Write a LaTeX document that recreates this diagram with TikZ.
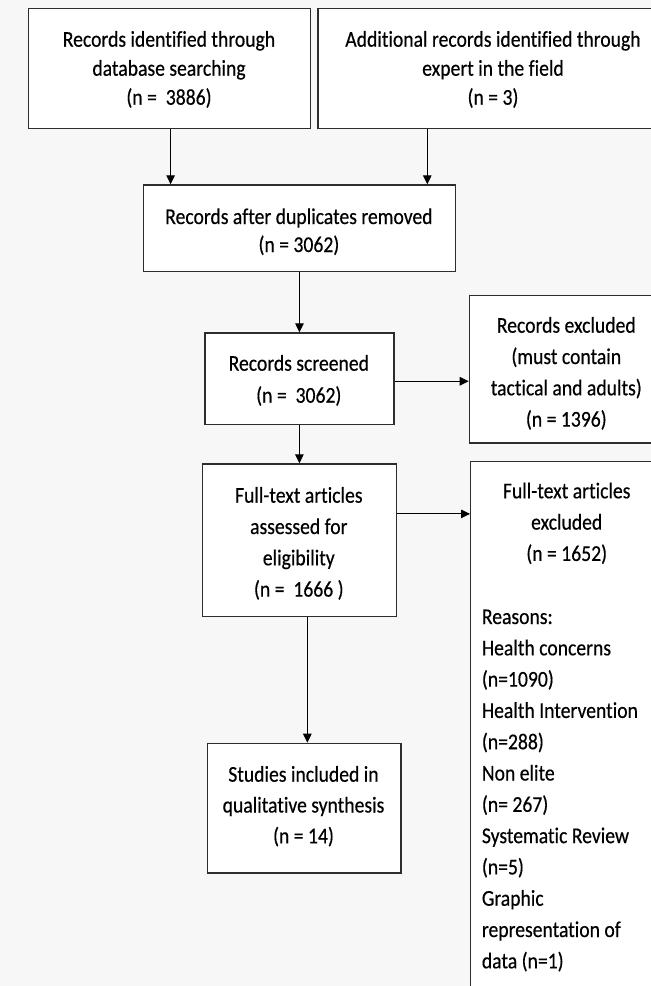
\documentclass[tikz,border=0pt]{standalone}
\usepackage{fontspec}
\setmainfont{Carlito}[FakeStretch=0.87, FakeBold=0.4, Ligatures=NoCommon]
\usetikzlibrary{arrows.meta}
\definecolor{bgc}{RGB}{247,247,247}
\definecolor{edge}{RGB}{45,45,45}
\newcommand\fsz[1]{\fontsize{22.6}{#1}\selectfont}
\begin{document}
\begin{tikzpicture}[x=1pt,y=-1pt,
  box/.style={draw=edge, line width=1.2pt, fill=white, inner sep=0pt, anchor=north west},
  txt/.style={inner sep=0pt, align=center, anchor=base},
  txtl/.style={inner sep=0pt, align=left, anchor=base west},
  arr/.style={line width=1.1pt, -{Triangle[width=8.5pt,length=9pt]}}]
\useasboundingbox (0,0) rectangle (651,986);
\fill[bgc] (0,0) rectangle (651,986);
\begin{scope}
\clip (0,0) rectangle (651,986);
% boxes
\node[box, minimum width=282pt, minimum height=120pt] (b1) at (28,8) {};
\node[box, minimum width=351.7pt, minimum height=120pt] (b2) at (317.3,8) {};
\node[box, minimum width=312.3pt, minimum height=86.7pt] (b3) at (142.7,184.3) {};
\node[box, minimum width=189pt, minimum height=91.7pt] (b4) at (204.3,332.3) {};
\node[box, minimum width=195.3pt, minimum height=147.6pt] (b5) at (468.7,294.7) {};
\node[box, minimum width=193.7pt, minimum height=152.4pt] (b6) at (202,463.3) {};
\node[box, minimum width=194pt, minimum height=540pt] (b7) at (470,460.7) {};
\node[box, minimum width=193.6pt, minimum height=129.6pt] (b8) at (206.7,742.7) {};
% texts (anchor base = baseline of last line)
\node[txt, font=\fsz{29}] (t1) at (169,104.7) {Records identified through\\database searching\\(n =\ \ 3886)};
\node[txt, font=\fsz{29}] (t2) at (493,104.7) {Additional records identified through\\expert in the field\\(n = 3)};
\node[txt, font=\fsz{28}] (t3) at (298.9,252) {Records after duplicates removed\\(n = 3062)};
\node[txt, font=\fsz{32}] (t4) at (298.8,402.7) {Records screened\\(n =\ \ 3062)};
\node[txt, font=\fsz{31.3}] (t5) at (566.3,426.6) {Records excluded\\(must contain\\tactical and adults)\\(n = 1396)};
\node[txt, font=\fsz{31.3}] (t6) at (298.8,596.6) {Full-text articles\\assessed for\\eligibility\\(n =\ \ 1666 )};
\node[txt, font=\fsz{31.3}] (t7) at (566.7,560.9) {Full-text articles\\excluded\\(n = 1652)};
\node[txtl, font=\fsz{31.3}] (t7b) at (481.7,968.3) {Reasons:\\Health concerns\\(n=1090)\\Health Intervention\\(n=288)\\Non elite\\(n= 267)\\Systematic Review\\(n=5)\\Graphic\\representation of\\data (n=1)};
\node[txt, font=\fsz{30.8}] (t8) at (303.5,843.3) {Studies included in\\qualitative synthesis\\(n = 14)};
% connectors
\coordinate (s1) at ([xshift=1pt]b1.south);
\coordinate (s2) at ([xshift=110pt]b2.south west);
\coordinate (s4) at ([yshift=-2.5pt]b4.east);
\coordinate (s6) at ([yshift=26.2pt]b6.east);
\coordinate (s7) at ([xshift=7.9pt]b6.south);
\draw[arr] (s1) -- (s1 |- b3.north);
\draw[arr] (s2) -- (s2 |- b3.north);
\draw[arr] (b3.south) -- (b3.south |- b4.north);
\draw[arr] (s4) -- (s4 -| b5.west);
\draw[arr] (b4.south) -- (b4.south |- b6.north);
\draw[arr] (s6) -- (s6 -| b7.west);
\draw[arr] (s7) -- (s7 |- b8.north);
\end{scope}
\end{tikzpicture}
\end{document}
